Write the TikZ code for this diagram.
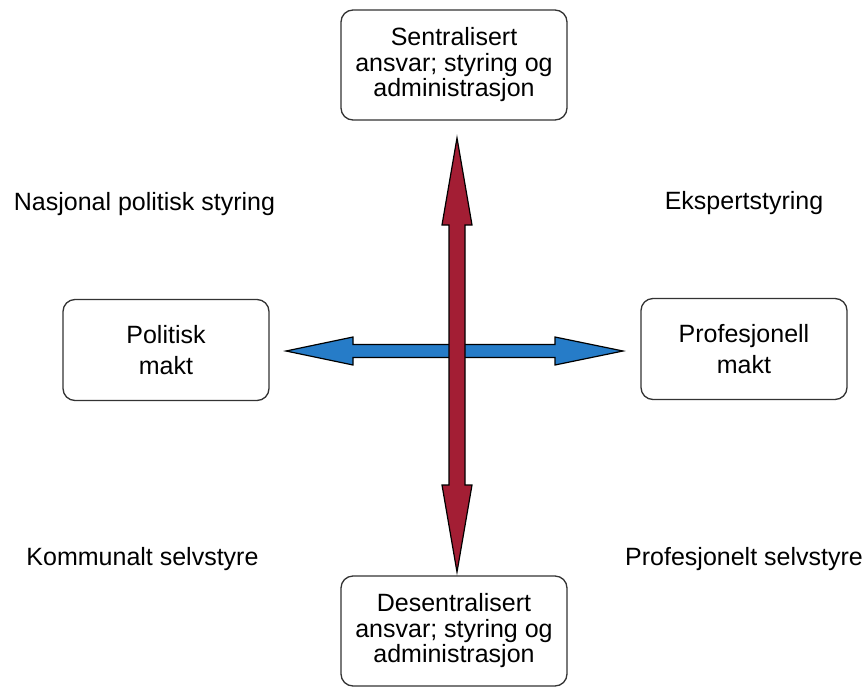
\documentclass[tikz,border=0pt]{standalone}
\usepackage{fontspec}
\setmainfont{Liberation Sans}
\definecolor{pilred}{RGB}{163,30,52}
\definecolor{pilblue}{RGB}{38,124,200}

\begin{document}
\begin{tikzpicture}[x=1pt, y=-1pt,
        boks/.style={draw=black!80, line width=1.3pt, rounded corners=12pt,
          align=center, inner sep=0pt},
        stor/.style={boks, minimum width=226pt, minimum height=110pt,
          font=\fontsize{25}{25.5}\selectfont},
        liten/.style={boks, minimum width=206pt, minimum height=101pt,
          font=\fontsize{25}{31}\selectfont},
        etikett/.style={font=\fontsize{25}{30}\selectfont, inner sep=0pt,
          anchor=base},
        pil/.style={draw=black, line width=1.2pt, line join=miter}]
     \useasboundingbox (0,0) rectangle (868,686);
     \node (S) at (454,65) [stor] {Sentralisert\\ansvar; styring og\\administrasjon};
     \node (D) at (454,631) [stor] {Desentralisert\\ansvar; styring og\\administrasjon};
     \node (P) at (166,350) [liten] {Politisk\\makt};
     \node (F) at (744,349) [liten] {Profesjonell\\makt};
     \node (ns) at (144.5,210) [etikett] {Nasjonal politisk styring};
     \node (es) at (744,209) [etikett] {Ekspertstyring};
     \node (ks) at (142.5,565) [etikett] {Kommunalt selvstyre};
     \node (ps) at (744,565) [etikett] {Profesjonelt selvstyre};
     \coordinate (vt) at (286,351);
     \coordinate (ht) at (623,351);
     \coordinate (nt) at (457,138);
     \coordinate (st) at (457,572);
      \draw[pil, fill=pilblue] (vt) -- ++(67,-14) -- ++(0,7.5) -- ++(202,0)
        -- ++(0,-7.5) -- (ht) -- ++(-68,14) -- ++(0,-7.5) -- ++(-202,0)
        -- ++(0,7.5) -- cycle;
      \draw[pil, fill=pilred] (nt) -- ++(15,87) -- ++(-7,0) -- ++(0,260)
        -- ++(7,0) -- (st) -- ++(-15,-87) -- ++(7,0) -- ++(0,-260)
        -- ++(-7,0) -- cycle;
    \end{tikzpicture}
\end{document}
